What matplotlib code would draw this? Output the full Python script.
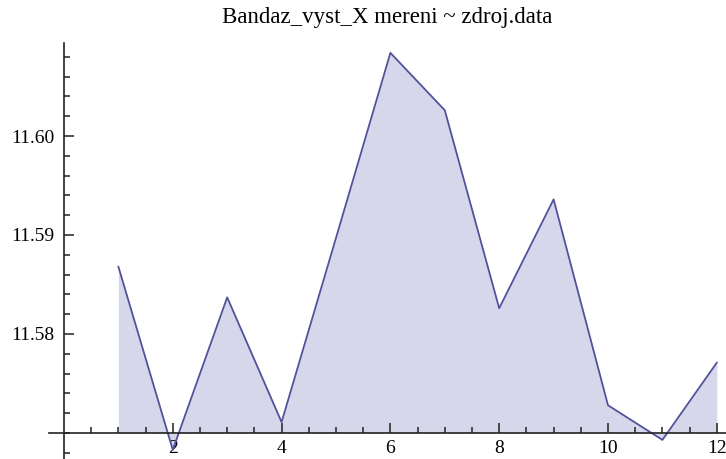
import matplotlib
matplotlib.use("Agg")
import numpy as np
import matplotlib.pyplot as plt
from matplotlib.ticker import FixedLocator

# measurement index and value
mereni = [1, 2, 3, 4, 5, 6, 7, 8, 9, 10, 11, 12]
hodnoty = [11.5868, 11.5683, 11.5837, 11.5711, 11.5897, 11.6084,
           11.6026, 11.5826, 11.5936, 11.5728, 11.5693, 11.5771]
osa_y = 11.57  # where the horizontal axis crosses
y_popisky = [11.58, 11.59, 11.60]
x_popisky = [2, 4, 6, 8, 10, 12]
nazev = "Bandaz_vyst_X mereni ~ zdroj.data"

line_col = "#52529a"
fill_col = "#d7d7eb"

plt.rcParams["font.family"] = ["Liberation Serif", "DejaVu Serif"]

fig = plt.figure(figsize=(7.26, 4.59), dpi=100)
ax = fig.add_axes([0, 0, 1, 1])

ax.fill_between(mereni, hodnoty, osa_y, color=fill_col, lw=0)
ax.plot(mereni, hodnoty, color=line_col, lw=1.3)

ax.set_xlim(-1.176, 12.169)
ax.set_ylim(11.56737, 11.61374)

# axes crossing at (0, 11.57), Mathematica style
for s in ("top", "right"):
    ax.spines[s].set_visible(False)
ax.spines["left"].set_position(("data", 0))
ax.spines["bottom"].set_position(("data", osa_y))
ax.spines["left"].set_bounds(11.5673, 11.6094)
ax.spines["bottom"].set_bounds(-0.28, 12.17)
for s in ("left", "bottom"):
    ax.spines[s].set_linewidth(1.2)
    ax.spines[s].set_color("#222222")

ax.xaxis.set_major_locator(FixedLocator(x_popisky))
ax.xaxis.set_minor_locator(FixedLocator(np.arange(0.5, 12.01, 0.5)))
ax.yaxis.set_major_locator(FixedLocator(y_popisky))
ax.yaxis.set_minor_locator(FixedLocator(np.arange(11.568, 11.6085, 0.002)))
ax.set_yticklabels(["%.2f" % v for v in y_popisky])

ax.tick_params(which="both", direction="in", color="#222222", width=1.1)
ax.tick_params(which="major", length=7, labelsize=14)
ax.tick_params(axis="x", which="major", pad=5)
ax.tick_params(axis="y", which="major", pad=7)
ax.tick_params(which="minor", length=4)

fig.text(0.534, 1 - 18 / 459, nazev, ha="center", va="center", fontsize=16.5)

fig.savefig("out.png", dpi=100)
